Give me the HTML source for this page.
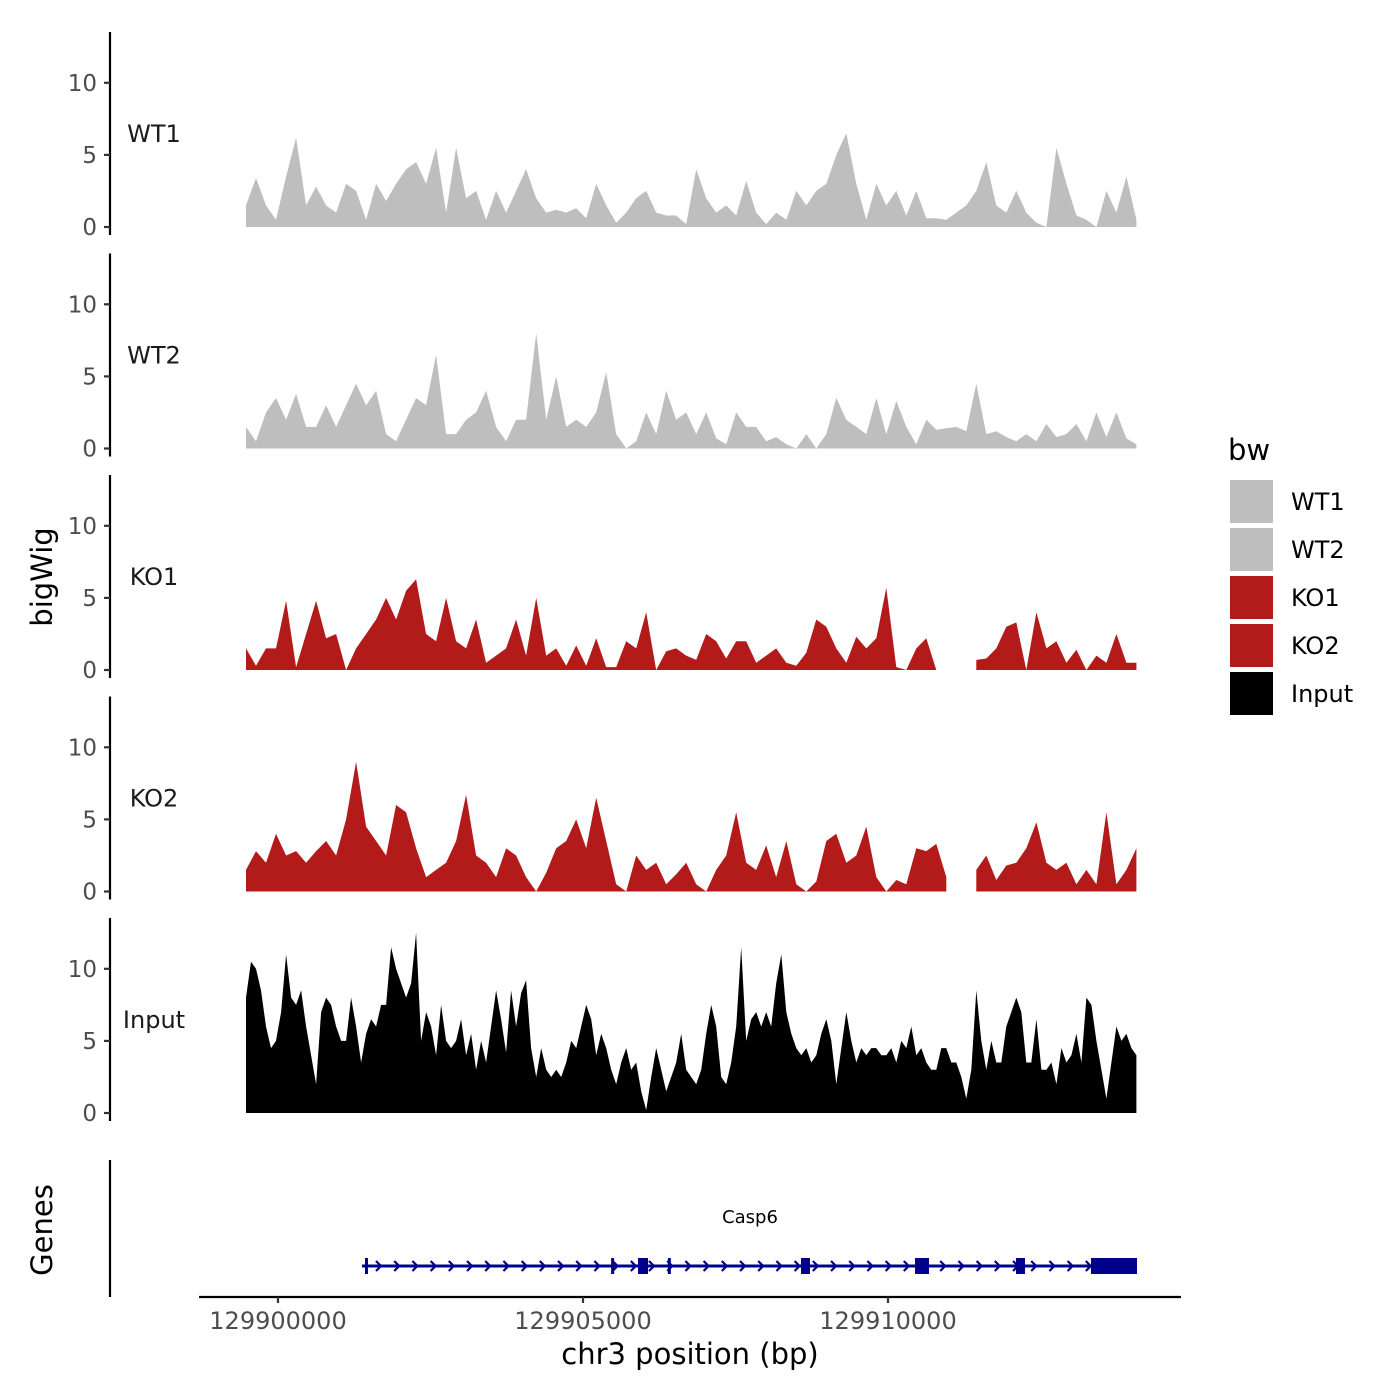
<!DOCTYPE html>
<html><head><meta charset="utf-8"><style>
html,body{margin:0;padding:0;background:#fff;}
svg{display:block;font-family:"DejaVu Sans","Liberation Sans",sans-serif;}
</style></head><body>
<svg id="chart" width="1400" height="1400" viewBox="0 0 1400 1400" xmlns="http://www.w3.org/2000/svg">
<g id="panels"></g>
<g id="genes"></g>
<g id="xaxis"></g>
<text x="52" y="577" font-size="29" text-anchor="middle" transform="rotate(-90 52 577)" fill="#000">bigWig</text>
<text x="52" y="1230" font-size="29" text-anchor="middle" transform="rotate(-90 52 1230)" fill="#000">Genes</text>
<text x="690" y="1364" font-size="29" text-anchor="middle" fill="#000">chr3 position (bp)</text>
<g id="legend"></g>
</svg>
<script>
// ---- data ----
const trackNames = ["WT1","WT2","KO1","KO2","Input"];
const trackColors = ["#bebebe","#bebebe","#b31b1b","#b31b1b","#000000"];
const startBp = 129899476;
const stepBp = 164;       // bin size for ChIP tracks
const stepBpInput = 82;   // bin size for Input
const yTicks = [0,5,10];
const xTicks = [129900000,129905000,129910000];
const wt1 = [1.5,3.4,1.5,0.5,3.5,6.2,1.5,2.8,1.5,1,3,2.5,0.5,3,1.8,3,4,4.5,3,5.5,1,5.5,2,2.5,0.5,2.5,1,2.5,4,2,1,1.2,1,1.3,0.6,3,1.5,0.3,1,2,2.5,1,0.8,0.8,0.2,4,2,1,1.5,0.8,3.2,1,0.2,1,0.5,2.5,1.5,2.5,3,5,6.5,3,0.5,3,1.5,2.5,0.8,2.5,0.6,0.6,0.5,1,1.5,2.5,4.5,1.5,1,2.5,1,0.3,0,5.5,3,0.8,0.5,0,2.5,1,3.5,0.5];
const wt2 = [1.5,0.5,2.5,3.5,2,3.8,1.5,1.5,3,1.5,3,4.5,3,4,1,0.5,2,3.5,3,6.5,1,1,2,2.5,4,1.5,0.5,2,2,8,2,5,1.5,2,1.5,2.5,5.3,1,0,0.5,2.5,1,4,2,2.5,1,2.5,0.7,0.3,2.5,1.5,1.5,0.5,0.8,0.3,0,1,0,1,3.5,2,1.5,1,3.5,1,3.3,1.5,0.3,2,1.3,1.4,1.5,1.2,4.5,1,1.2,0.8,0.5,1,0.5,1.7,0.8,1,1.7,0.5,2.5,0.8,2.5,0.7,0.3];
const ko1 = [1.5,0.3,1.5,1.5,4.8,0.2,2.5,4.8,2.2,2.5,0,1.5,2.5,3.5,5,3.5,5.5,6.3,2.5,2,5,2,1.5,3.5,0.5,1,1.5,3.5,1,5,1,1.5,0.3,1.7,0.3,2.2,0.2,0.2,2,1.5,4,0,1.3,1.5,1,0.7,2.5,2,0.8,2,2,0.5,1,1.5,0.5,0.3,1.2,3.5,3,1.5,0.5,2.3,1.5,2.2,5.7,0.2,0,1.5,2.2,0,null,null,null,0.7,0.8,1.5,3,3.3,0,4,1.5,2,0.5,1.4,0,1,0.5,2.5,0.5,0.5];
const ko2 = [1.5,2.8,2,4,2.5,2.8,2,2.8,3.5,2.5,5,9,4.5,3.5,2.5,6,5.5,3,1,1.5,2,3.5,6.7,2.5,2,1,3,2.5,1,0,1.3,3,3.5,5,3,6.5,3.5,0.5,0,2.5,1.5,2,0.5,1.2,2,0.5,0,1.5,2.5,5.5,2,1.5,3.2,1,3.5,0.5,0,0.7,3.5,4,2,2.5,4.5,1,0,0.8,0.5,3,2.8,3.3,1,null,null,1.5,2.5,0.8,1.8,2,3,4.8,2,1.5,2,0.5,1.5,0.5,5.5,0.5,1.5,3];
const input = [8,10.5,10,8.5,6,4.5,5,7,11,8,7.5,8.5,6,4,2,7,8,7.5,6,5,5,8,6,3.5,5.5,6.5,6,7.5,7.5,11.5,10,9,8,9,12.5,5,7,6,4,7.5,5,4.5,5,6.5,4,5.5,3,5,3.5,6,8.5,6.5,4.2,8.5,6,8.3,9.2,4.5,2.5,4.5,3,2.5,3,2.5,3.5,5,4.5,6,7.5,6.5,4,5.5,4.5,3,2,3.5,4.5,3,3.5,1.5,0.2,2.5,4.5,3,1.5,2.5,3.5,5.5,3,2.5,2,3,5.5,7.5,6,2.5,2,3.5,6,11.5,5,6.5,7,6,7,6,9,11,7,5.5,4.5,4,4.5,3.5,4,5.5,6.5,5,2,4.5,7,5,3.5,4.5,4,4.5,4.5,4,4,4.5,3.5,5,4.5,6,4,4.5,3.5,3,3,4.5,4.5,3.5,3.5,2.5,1,3,8.5,5,3,5,3.5,3.5,6,7,8,7,3.5,3.5,6.5,3,3,3.5,2,4.5,3.5,4,5.5,3.5,8,7.5,5,3,1,3.5,6,5,5.5,4.5,4];
const trackValues = [wt1,wt2,ko1,ko2,input];
const trackSteps = [stepBp,stepBp,stepBp,stepBp,stepBpInput];
// gene model (bp)
const geneName = "Casp6";
const geneStart = 129901377, geneEnd = 129914082;
const exonStarts = [129901426,129905461,129905902,129906391,129908574,129910443,129912098,129913328];
const exonEnds   = [129901461,129905491,129906066,129906431,129908721,129910672,129912246,129914082];

// ---- scales ----
const X0 = 278, PX_PER_BP = 305/5000;
function xs(bp){ return X0 + (bp - 129900000)*PX_PER_BP; }
const panelBase = [227,448.5,670,891.5,1113];
const PX_PER_UNIT = 14.42;
function ys(p,v){ return panelBase[p] - v*PX_PER_UNIT; }
const NS = "http://www.w3.org/2000/svg";
function mk(tag, attrs, parent){ const e=document.createElementNS(NS,tag); for(const k in attrs) e.setAttribute(k,attrs[k]); parent.appendChild(e); return e; }

const panels = document.getElementById('panels');
trackValues.forEach((vals,p)=>{
  const g = mk('g',{},panels);
  
  
  const ax = mk('line',{x1:110,x2:110,y1:panelBase[p]-195,y2:panelBase[p]+8,stroke:'#000','stroke-width':2.2},g);
  
  
  yTicks.forEach(t=>{
    const tk = mk('line',{x1:104,x2:110,y1:ys(p,t),y2:ys(p,t),stroke:'#333','stroke-width':2.2},g);
    
    
    const tl = mk('text',{x:97,y:ys(p,t)+8,'font-size':23,'text-anchor':'end',fill:'#4d4d4d'},g);
    tl.textContent = t;
    
    
  });
  const lab = mk('text',{x:154,y:panelBase[p]-85,'font-size':24,'text-anchor':'middle',fill:'#1a1a1a'},g);
  lab.textContent = trackNames[p];
  
  
  let seg=[]; const segs=[];
  vals.forEach((v,i)=>{
    if(v===null){ if(seg.length) segs.push(seg); seg=[]; }
    else seg.push([xs(startBp + i*trackSteps[p]), ys(p,v)]);
  });
  if(seg.length) segs.push(seg);
  segs.forEach(s=>{
    const b = panelBase[p];
    let d = 'M'+s[0][0].toFixed(1)+','+b;
    s.forEach(pt=>{ d += 'L'+pt[0].toFixed(1)+','+pt[1].toFixed(1); });
    d += 'L'+s[s.length-1][0].toFixed(1)+','+b+'Z';
    const a = mk('path',{d:d,fill:trackColors[p]},g);
    
    
  });
});

// genes panel
const genes = document.getElementById('genes');
const gl = mk('line',{x1:110,x2:110,y1:1160,y2:1297,stroke:'#000','stroke-width':2.2},genes);


const GY = 1266;
const body = mk('line',{x1:xs(geneStart),x2:xs(geneEnd),y1:GY,y2:GY,stroke:'#00008b','stroke-width':3},genes);


for(let x = xs(geneStart)+17; x < xs(geneEnd)-5; x += 18.2){
  const c = mk('path',{d:`M${x-3},${GY-5}L${x+2},${GY}L${x-3},${GY+5}`,fill:'none',stroke:'#00008b','stroke-width':2.2},genes);
  
  
}
exonStarts.forEach((s,i)=>{
  const x1 = xs(s), x2 = Math.max(xs(exonEnds[i]), x1+3);
  const r = mk('rect',{x:x1,y:GY-8,width:x2-x1,height:16,fill:'#00008b'},genes);
  
  
});
const gn = mk('text',{x:750,y:1223,'font-size':18,'text-anchor':'middle',fill:'#000'},genes);
gn.textContent = geneName;



// x axis
const xa = document.getElementById('xaxis');
const xl = mk('line',{x1:199,x2:1181,y1:1297,y2:1297,stroke:'#000','stroke-width':2.2},xa);


xTicks.forEach(t=>{
  const tk = mk('line',{x1:xs(t),x2:xs(t),y1:1297,y2:1303,stroke:'#333','stroke-width':2.2},xa);
  
  
  const tl = mk('text',{x:xs(t),y:1329,'font-size':24,'text-anchor':'middle',fill:'#4d4d4d'},xa);
  tl.textContent = t;
  
  
});

// legend
const lg = document.getElementById('legend');
const lt = mk('text',{x:1228,y:460,'font-size':29,fill:'#000'},lg);
lt.textContent = 'bw';


trackNames.forEach((n,i)=>{
  const y = 480 + i*48;
  const r = mk('rect',{x:1230,y:y,width:43,height:43,fill:trackColors[i]},lg);
  
  
  const t = mk('text',{x:1291,y:y+30,'font-size':24,fill:'#000'},lg);
  t.textContent = n;
  
  
});
</script>
</body></html>
